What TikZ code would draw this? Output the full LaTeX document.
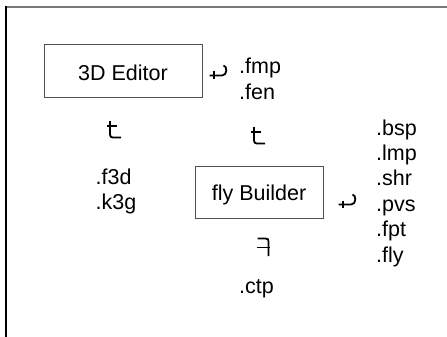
\documentclass[tikz,border=0pt]{standalone}
\usepackage{fontspec}
\setmainfont{Liberation Sans}
\definecolor{boxline}{RGB}{80,80,80}
\definecolor{topline}{RGB}{120,120,120}
\tikzset{
  lbl/.style={anchor=base west, inner sep=0pt, font=\fontsize{21.5}{25}\selectfont},
  boxnode/.style={draw=boxline, line width=1pt, minimum width=158pt, minimum height=52pt, inner sep=0pt, text depth=0pt, font=\fontsize{21.5}{25}\selectfont},
  glyphline/.style={line width=1.8pt, line cap=butt},
  hookglyph/.pic={
    \draw[glyphline] (0.5,9.5) -- (13,9.5) .. controls (18.5,9.5) and (18.5,0) .. (14.5,-0.5);
    \draw[glyphline] (5,5.5) -- (5,12.5);
  },
  tglyph/.pic={
    \draw[glyphline] (3,-1) -- (3,11.5) .. controls (3,15) and (4,15.5) .. (7.5,15.5) -- (14,15.5);
    \draw[glyphline] (0,4) -- (10,4);
  },
  fglyph/.pic={
    \draw[glyphline] (0.5,0) -- (8.5,0) .. controls (11,0) and (11.5,1) .. (11.5,3) -- (11.5,17.5);
    \draw[glyphline] (0,9) -- (12.5,9);
  }
}
\begin{document}
\begin{tikzpicture}[x=1pt,y=-1pt]
\useasboundingbox (0,0) rectangle (447,337);
\draw[topline, line width=1.5pt] (5.4,7) -- (447,7);
\draw[black, line width=1.2pt] (6,6.3) -- (6,337);

\node[boxnode, text height=20pt] (editor) at (123,71) {3D Editor};
\node[boxnode, text height=16pt, minimum width=128pt] (builder) at (259,192) {fly Builder};

\pic at (209,66) {hookglyph};
\pic at (338,195) {hookglyph};
\pic at (107,122) {tglyph};
\pic at (251,128) {tglyph};
\pic at (257,238.5) {fglyph};

\node[lbl] (fmp) at (239,74) {.fmp};
\node[lbl] (fen) at (239,99.5) {.fen};
\node[lbl] (f3d) at (95.5,184) {.f3d};
\node[lbl] (k3g) at (95.5,209.5) {.k3g};
\node[lbl] (ctp) at (239,293) {.ctp};
\node[lbl] (bsp) at (376,135) {.bsp};
\node[lbl] (lmp) at (376,160.4) {.lmp};
\node[lbl] (shr) at (376,185.8) {.shr};
\node[lbl] (pvs) at (376,211.2) {.pvs};
\node[lbl] (fpt) at (376,236.6) {.fpt};
\node[lbl] (fly) at (376,262) {.fly};
\end{tikzpicture}
\end{document}
